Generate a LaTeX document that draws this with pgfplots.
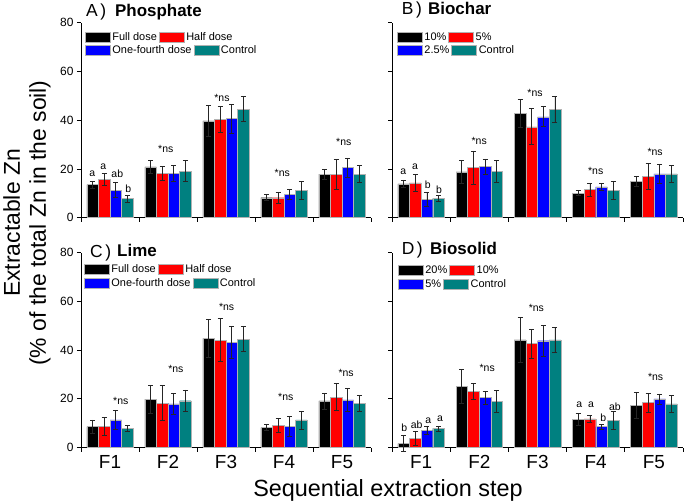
\documentclass[border=0pt]{standalone}
\usepackage{pgfplots}
\pgfplotsset{compat=1.18}
\usepackage{pgfplotstable}
\usepackage{fontspec}
\setmainfont{Liberation Sans}
\definecolor{cteal}{RGB}{0,128,128}
\definecolor{cred}{RGB}{255,0,0}
\definecolor{cblue}{RGB}{0,0,255}

\tikzset{ann/.style={font=\fontsize{10.5}{12}\selectfont, inner sep=0pt}}
\pgfplotsset{
 ybar legend/.style={/pgfplots/legend image code/.code={\draw[##1,draw=gray!60,line width=0.4bp] (0bp,-5.2bp) rectangle (25bp,5.2bp);}},
 legsty/.style={legend columns=2,
  legend style={draw=none, fill=none, anchor=north west, inner sep=0pt, outer sep=0pt,
   column sep=0pt, row sep=0pt, font=\fontsize{11}{13}\selectfont,
   nodes={inner xsep=2bp, inner ysep=0.5bp}}},
 panel/.style={
  scale only axis, anchor=south west, height=195bp,
  xmin=-0.5, xmax=4.5, ymin=0, ymax=80,
  axis lines*=left,
  axis line style={line width=0.8bp,black},
  tick style={line width=0.8bp,black},
  tick align=outside, major tick length=4bp,
  ytick={0,20,40,60,80},
  xtick={-0.5,0.5,1.5,2.5,3.5,4.5}, xticklabels={},
  ybar=0pt, bar width=0.2,
  clip=false,
  tick label style={font=\fontsize{12}{14}\selectfont},
  /pgf/number format/assume math mode=true,
  legsty,
 },
 flabels/.style={extra x ticks={0,1,2,3,4}, extra x tick labels={F1,F2,F3,F4,F5},
  extra x tick style={tick style={draw=none}},
  xticklabel style={font=\fontsize{19}{22}\selectfont, yshift=0bp}},
 leg2/.style={scale only axis, anchor=south west, height=195bp, hide axis,
  xmin=0,xmax=1,ymin=0,ymax=1, ybar legend, legsty},
 ebar/.style={draw=gray!60, line width=0.4bp,
  error bars/y dir=both, error bars/y explicit,
  error bars/error bar style={line width=0.7bp,black!85},
  error bars/error mark options={rotate=90,mark size=2.5bp,line width=0.7bp,black!85}},
}

\pgfplotstableread{
x m1 e1 m2 e2 m3 e3 m4 e4
0 13.6 1.5 15.7 2.5 11.3 3.0 7.8 1.4
1 20.9 2.7 18.2 2.7 18.2 3.4 19.1 4.3
2 39.7 6.4 40.4 5.4 40.7 5.9 44.5 5.1
3 8.2 1.2 8.2 2.4 9.6 1.9 11.3 3.7
4 17.9 2.0 17.9 6.1 20.6 3.9 17.9 3.4
}\tabA
\pgfplotstableread{
x m1 e1 m2 e2 m3 e3 m4 e4
0 13.9 1.6 14.3 3.6 7.6 3.0 7.9 1.2
1 18.8 4.8 20.6 6.8 21.0 3.1 19.1 4.4
2 42.7 5.7 37.3 7.4 41.4 4.1 44.5 5.3
3 10.1 1.0 11.5 2.7 12.6 1.5 11.3 3.7
4 15.0 2.0 16.9 5.3 18.0 3.9 18.0 3.5
}\tabB
\pgfplotstableread{
x m1 e1 m2 e2 m3 e3 m4 e4
0 8.6 2.7 8.6 3.6 11.3 3.8 7.9 1.3
1 19.8 5.8 18.2 7.2 17.9 4.4 19.2 4.4
2 44.8 7.8 44.0 8.8 43.1 6.4 44.5 5.1
3 8.2 1.2 9.1 2.7 8.7 4.0 11.3 3.7
4 19.1 3.3 20.7 5.5 19.5 4.6 18.0 3.3
}\tabC
\pgfplotstableread{
x m1 e1 m2 e2 m3 e3 m4 e4
0 1.6 3.3 3.8 2.9 7.1 1.5 7.8 1.0
1 25.1 7.0 23.1 3.2 20.5 2.6 19.0 4.4
2 44.2 9.1 42.6 6.0 43.8 6.4 44.2 5.1
3 11.5 2.6 11.7 1.5 8.6 1.0 11.2 3.6
4 17.2 5.3 18.4 3.9 19.9 2.1 17.9 3.5
}\tabD

\begin{document}
\begin{tikzpicture}
\path[use as bounding box] (0bp,0bp) rectangle (685bp,504bp);

% ---------- Panel A ----------
\begin{axis}[panel, at={(81bp,286.3bp)}, width=290bp,
  legend style={at={(0.0138,0.954)}}]
\addplot[fill=black, ebar] table[x=x,y=m1,y error=e1]{\tabA};
\addlegendentry{Full dose}
\addplot[fill=cred, ebar] table[x=x,y=m2,y error=e2]{\tabA};
\addlegendentry{Half dose}
\addplot[fill=cblue, ebar] table[x=x,y=m3,y error=e3]{\tabA};
\addplot[fill=cteal, ebar] table[x=x,y=m4,y error=e4]{\tabA};
\node[ann] at (axis cs:-0.305,17.9) {a};
\node[ann] at (axis cs:-0.115,20.9) {a};
\node[ann] at (axis cs:0.126,18.0) {ab};
\node[ann] at (axis cs:0.316,11.9) {b};
\node[ann,anchor=base] at (axis cs:0.962,26.8) {*ns};
\node[ann,anchor=base] at (axis cs:1.93,47.5) {*ns};
\node[ann,anchor=base] at (axis cs:2.97,16.8) {*ns};
\node[ann,anchor=base] at (axis cs:4.03,29.8) {*ns};
\end{axis}
\begin{axis}[leg2, at={(81bp,286.3bp)}, width=290bp, legend style={at={(0.0138,0.886)}}]
\addlegendimage{fill=cblue}\addlegendentry{One-fourth dose}
\addlegendimage{fill=cteal}\addlegendentry{Control}
\end{axis}

% ---------- Panel B ----------
\begin{axis}[panel, at={(392bp,286.3bp)}, width=291bp, yticklabels={},
  legend style={at={(0.0172,0.954)}}]
\addplot[fill=black, ebar] table[x=x,y=m1,y error=e1]{\tabB};
\addlegendentry{10\%}
\addplot[fill=cred, ebar] table[x=x,y=m2,y error=e2]{\tabB};
\addlegendentry{5\%}
\addplot[fill=cblue, ebar] table[x=x,y=m3,y error=e3]{\tabB};
\addplot[fill=cteal, ebar] table[x=x,y=m4,y error=e4]{\tabB};
\node[ann] at (axis cs:-0.306,18.8) {a};
\node[ann] at (axis cs:-0.105,20.9) {a};
\node[ann] at (axis cs:0.113,13.4) {b};
\node[ann] at (axis cs:0.308,11.6) {b};
\node[ann,anchor=base] at (axis cs:0.998,30.2) {*ns};
\node[ann,anchor=base] at (axis cs:1.957,49.9) {*ns};
\node[ann,anchor=base] at (axis cs:3.0,17.9) {*ns};
\node[ann,anchor=base] at (axis cs:4.02,25.6) {*ns};
\end{axis}
\begin{axis}[leg2, at={(392bp,286.3bp)}, width=291bp, legend style={at={(0.0172,0.886)}}]
\addlegendimage{fill=cblue}\addlegendentry{2.5\%}
\addlegendimage{fill=cteal}\addlegendentry{Control}
\end{axis}

% ---------- Panel C ----------
\begin{axis}[panel, flabels, at={(81bp,56.5bp)}, width=290bp,
  legend style={at={(0.0103,0.941)}}]
\addplot[fill=black, ebar] table[x=x,y=m1,y error=e1]{\tabC};
\addlegendentry{Full dose}
\addplot[fill=cred, ebar] table[x=x,y=m2,y error=e2]{\tabC};
\addlegendentry{Half dose}
\addplot[fill=cblue, ebar] table[x=x,y=m3,y error=e3]{\tabC};
\addplot[fill=cteal, ebar] table[x=x,y=m4,y error=e4]{\tabC};
\node[ann,anchor=base] at (axis cs:0.186,17.7) {*ns};
\node[ann,anchor=base] at (axis cs:1.135,30.9) {*ns};
\node[ann,anchor=base] at (axis cs:2.01,56.2) {*ns};
\node[ann,anchor=base] at (axis cs:3.03,19.3) {*ns};
\node[ann,anchor=base] at (axis cs:4.07,29.3) {*ns};
\end{axis}
\begin{axis}[leg2, at={(81bp,56.5bp)}, width=290bp, legend style={at={(0.0103,0.869)}}]
\addlegendimage{fill=cblue}\addlegendentry{One-fourth dose}
\addlegendimage{fill=cteal}\addlegendentry{Control}
\end{axis}

% ---------- Panel D ----------
\begin{axis}[panel, flabels, at={(392bp,56.5bp)}, width=291bp, yticklabels={},
  legend style={at={(0.0206,0.936)}}]
\addplot[fill=black, ebar] table[x=x,y=m1,y error=e1]{\tabD};
\addlegendentry{20\%}
\addplot[fill=cred, ebar] table[x=x,y=m2,y error=e2]{\tabD};
\addlegendentry{10\%}
\addplot[fill=cblue, ebar] table[x=x,y=m3,y error=e3]{\tabD};
\addplot[fill=cteal, ebar] table[x=x,y=m4,y error=e4]{\tabD};
\node[ann] at (axis cs:-0.288,8.1) {b};
\node[ann] at (axis cs:-0.075,9.5) {ab};
\node[ann] at (axis cs:0.125,10.9) {a};
\node[ann] at (axis cs:0.325,11.6) {a};
\node[ann] at (axis cs:2.72,17.4) {a};
\node[ann] at (axis cs:2.92,17.4) {a};
\node[ann] at (axis cs:3.13,12.0) {b};
\node[ann] at (axis cs:3.33,16.7) {ab};
\node[ann,anchor=base] at (axis cs:1.136,31.2) {*ns};
\node[ann,anchor=base] at (axis cs:1.98,55.7) {*ns};
\node[ann,anchor=base] at (axis cs:4.03,27.3) {*ns};
\end{axis}
\begin{axis}[leg2, at={(392bp,56.5bp)}, width=291bp, legend style={at={(0.0206,0.864)}}]
\addlegendimage{fill=cblue}\addlegendentry{5\%}
\addlegendimage{fill=cteal}\addlegendentry{Control}
\end{axis}

% ---------- Titles ----------
\begin{scope}[every node/.style={inner sep=0pt, anchor=base west}]
\node[font=\fontsize{17.5}{20}\selectfont] at (86bp,487bp) {A\kern2.5bp)};
\node[font=\fontsize{17}{20}\selectfont\bfseries] at (115bp,487.5bp) {Phosphate};
\node[font=\fontsize{17.5}{20}\selectfont] at (401.7bp,489bp) {B\kern2.5bp)};
\node[font=\fontsize{17}{20}\selectfont\bfseries] at (428bp,489bp) {Biochar};
\node[font=\fontsize{17.5}{20}\selectfont] at (90bp,246.7bp) {C\kern2.5bp)};
\node[font=\fontsize{17}{20}\selectfont\bfseries] at (117bp,247bp) {Lime};
\node[font=\fontsize{17.5}{20}\selectfont] at (401.7bp,249bp) {D\kern2.5bp)};
\node[font=\fontsize{17}{20}\selectfont\bfseries] at (430bp,249bp) {Biosolid};
\end{scope}

% ---------- Axis labels ----------
\node[rotate=90, align=center, font=\fontsize{23}{26}\selectfont, inner sep=0pt]
  at (27bp,281bp) {Extractable Zn\\(\% of the total Zn in the soil)};
\node[anchor=base, font=\fontsize{23.5}{26}\selectfont, inner sep=0pt]
  at (388bp,8bp) {Sequential extraction step};
\end{tikzpicture}
\end{document}
